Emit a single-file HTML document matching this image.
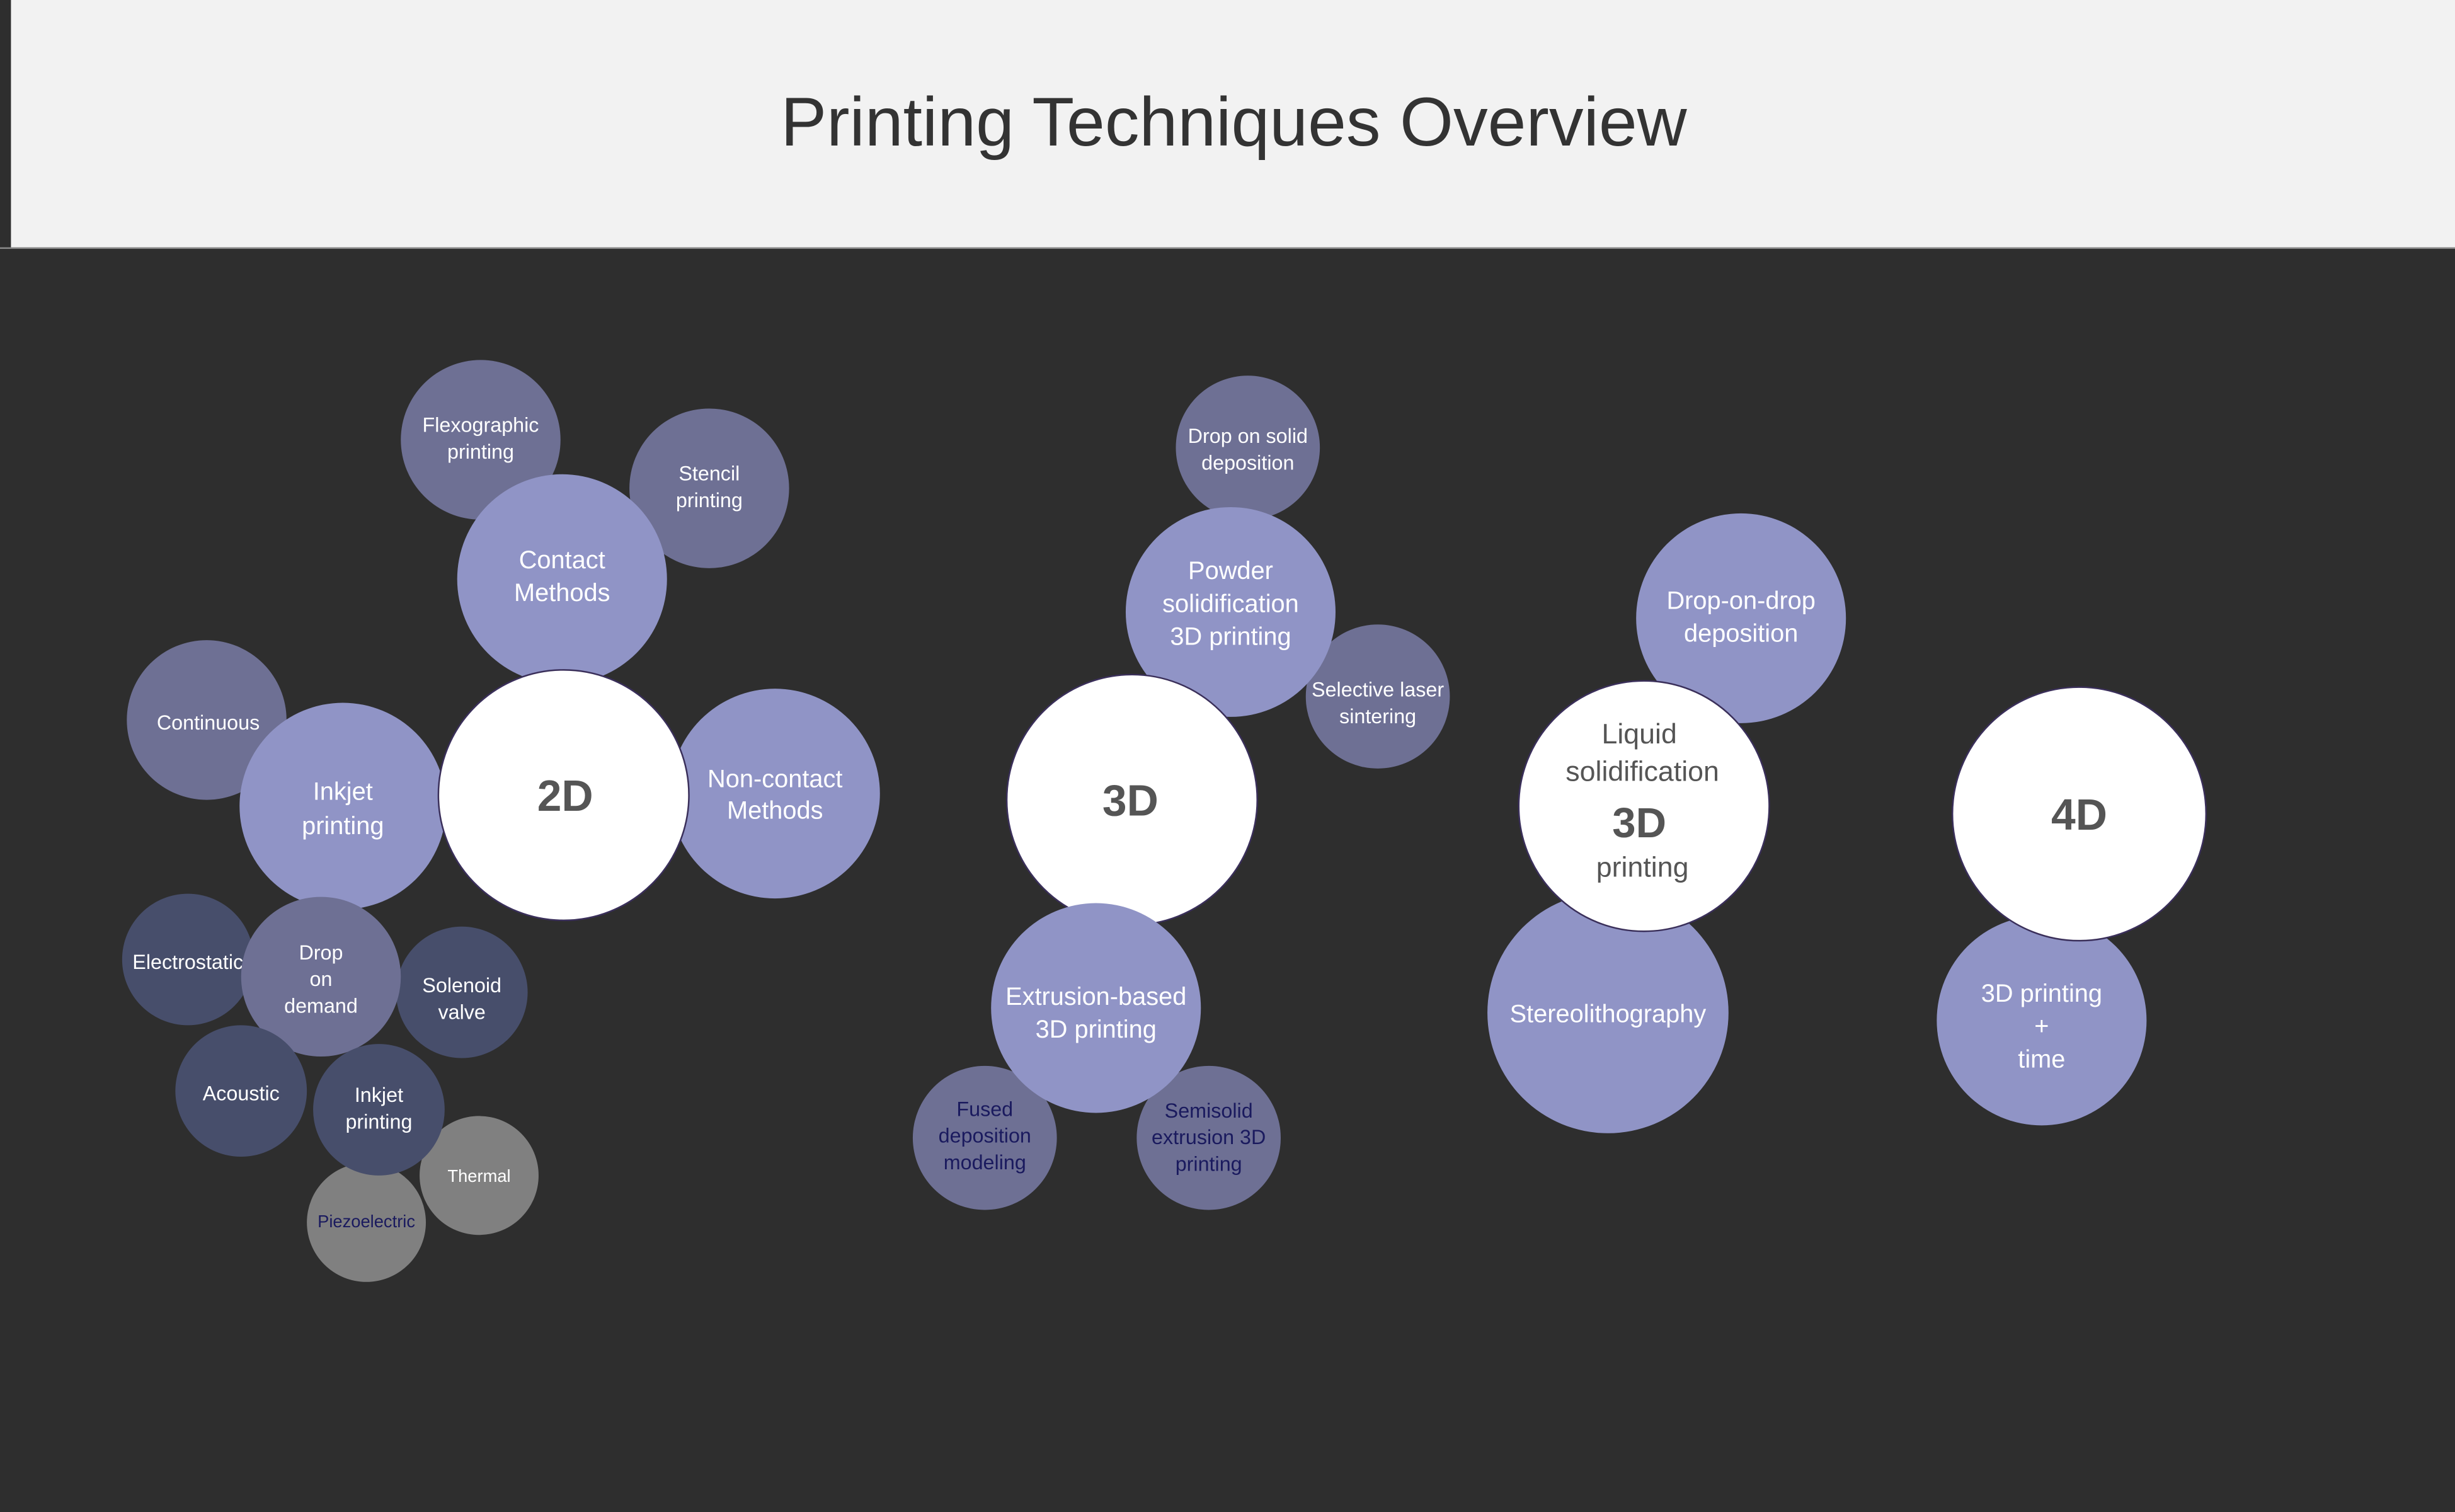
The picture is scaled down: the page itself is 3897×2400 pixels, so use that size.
<!DOCTYPE html>
<html><head><meta charset="utf-8"><style>
html,body{margin:0;padding:0;background:#2e2e2e;}
svg{display:block;}
text{font-family:"Liberation Sans",sans-serif;text-anchor:middle;}
</style></head><body>
<svg width="3897" height="2400" viewBox="0 0 1568 966" preserveAspectRatio="none" xmlns="http://www.w3.org/2000/svg">
<rect x="0" y="0" width="1568" height="966" fill="#2e2e2e"/>
<rect x="7" y="0" width="1561" height="158" fill="#f2f2f2"/>
<rect x="0" y="158" width="1568" height="1" fill="#8a8a8a"/>
<text x="788" y="93" font-size="44" fill="#333">Printing Techniques Overview</text>

<g fill="#fff" font-size="13">
<!-- 2D cluster -->
<circle cx="307" cy="281" r="51" fill="#6e7094"/>
<text x="307" y="276">Flexographic</text><text x="307" y="293">printing</text>
<circle cx="453" cy="312" r="51" fill="#6e7094"/>
<text x="453" y="307">Stencil</text><text x="453" y="324">printing</text>
<circle cx="359" cy="370" r="67" fill="#9094c6"/>
<text x="359" y="363" font-size="16">Contact</text><text x="359" y="384" font-size="16">Methods</text>
<circle cx="132" cy="460" r="51" fill="#6e7094"/>
<text x="133" y="466">Continuous</text>
<circle cx="219" cy="515" r="66" fill="#9094c6"/>
<text x="219" y="511" font-size="16">Inkjet</text><text x="219" y="533" font-size="16">printing</text>
<circle cx="495" cy="507" r="67" fill="#9094c6"/>
<text x="495" y="503" font-size="16">Non-contact</text><text x="495" y="523" font-size="16">Methods</text>
<circle cx="360" cy="508" r="80" fill="#fff" stroke="#3a2f5a" stroke-width="1"/>
<text x="361" y="518" font-size="28" font-weight="bold" fill="#555">2D</text>

<circle cx="120" cy="613" r="42" fill="#474e6b"/>
<text x="120" y="619">Electrostatic</text>
<circle cx="295" cy="634" r="42" fill="#474e6b"/>
<text x="295" y="634">Solenoid</text><text x="295" y="651">valve</text>
<circle cx="205" cy="624" r="51" fill="#6e7094"/>
<text x="205" y="613">Drop</text><text x="205" y="630">on</text><text x="205" y="647">demand</text>
<circle cx="154" cy="697" r="42" fill="#474e6b"/>
<text x="154" y="703">Acoustic</text>
<circle cx="306" cy="751" r="38" fill="#808080"/>
<text x="306" y="755" font-size="11">Thermal</text>
<circle cx="234" cy="781" r="38" fill="#808080"/>
<text x="234" y="784" font-size="11" fill="#1a1a5e">Piezoelectric</text>
<circle cx="242" cy="709" r="42" fill="#474e6b"/>
<text x="242" y="704">Inkjet</text><text x="242" y="721">printing</text>

<!-- 3D cluster -->
<circle cx="797" cy="286" r="46" fill="#6e7094"/>
<text x="797" y="283">Drop on solid</text><text x="797" y="300">deposition</text>
<circle cx="880" cy="445" r="46" fill="#6e7094"/>
<text x="880" y="445">Selective laser</text><text x="880" y="462">sintering</text>
<circle cx="786" cy="391" r="67" fill="#9094c6"/>
<text x="786" y="370" font-size="16">Powder</text><text x="786" y="391" font-size="16">solidification</text><text x="786" y="412" font-size="16">3D printing</text>
<circle cx="723" cy="511" r="80" fill="#fff" stroke="#3a2f5a" stroke-width="1"/>
<text x="722" y="521" font-size="28" font-weight="bold" fill="#555">3D</text>
<circle cx="629" cy="727" r="46" fill="#6e7094"/>
<text x="629" y="713" fill="#1a1a5e">Fused</text><text x="629" y="730" fill="#1a1a5e">deposition</text><text x="629" y="747" fill="#1a1a5e">modeling</text>
<circle cx="772" cy="727" r="46" fill="#6e7094"/>
<text x="772" y="714" fill="#1a1a5e">Semisolid</text><text x="772" y="731" fill="#1a1a5e">extrusion 3D</text><text x="772" y="748" fill="#1a1a5e">printing</text>
<circle cx="700" cy="644" r="67" fill="#9094c6"/>
<text x="700" y="642" font-size="16">Extrusion-based</text><text x="700" y="663" font-size="16">3D printing</text>

<!-- Liquid -->
<circle cx="1112" cy="395" r="67" fill="#9094c6"/>
<text x="1112" y="389" font-size="16">Drop-on-drop</text><text x="1112" y="410" font-size="16">deposition</text>
<circle cx="1027" cy="647" r="77" fill="#9094c6"/>
<text x="1027" y="653" font-size="16">Stereolithography</text>
<circle cx="1050" cy="515" r="80" fill="#fff" stroke="#3a2f5a" stroke-width="1"/>
<text x="1047" y="475" font-size="18" fill="#555">Liquid</text>
<text x="1049" y="499" font-size="18" fill="#555">solidification</text>
<text x="1047" y="535" font-size="27" font-weight="bold" fill="#555">3D</text>
<text x="1049" y="560" font-size="18" fill="#555">printing</text>

<!-- 4D -->
<circle cx="1304" cy="652" r="67" fill="#9094c6"/>
<text x="1304" y="640" font-size="16">3D printing</text><text x="1304" y="661" font-size="16">+</text><text x="1304" y="682" font-size="16">time</text>
<circle cx="1328" cy="520" r="81" fill="#fff" stroke="#3a2f5a" stroke-width="1"/>
<text x="1328" y="530" font-size="28" font-weight="bold" fill="#555">4D</text>
</g>
</svg>
</body></html>
